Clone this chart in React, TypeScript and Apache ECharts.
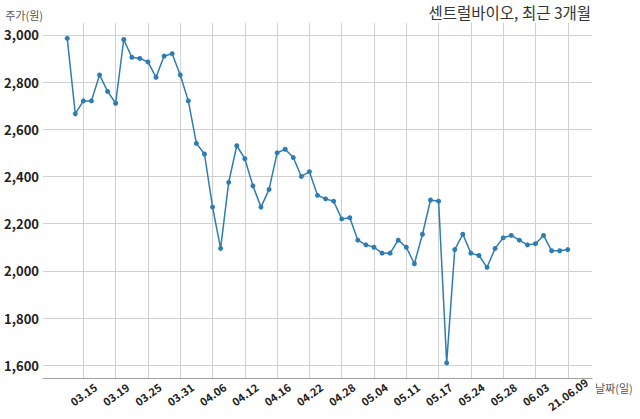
import React, { useRef, useEffect } from 'react';
import * as echarts from 'echarts';

// 거래일 (21.03.11 ~ 21.06.09)
const dates: string[] = [
  '21.03.11', '21.03.12', '21.03.15', '21.03.16', '21.03.17', '21.03.18', '21.03.19',
  '21.03.22', '21.03.23', '21.03.24', '21.03.25', '21.03.26', '21.03.29', '21.03.30',
  '21.03.31', '21.04.01', '21.04.02', '21.04.05', '21.04.06', '21.04.07', '21.04.08',
  '21.04.09', '21.04.12', '21.04.13', '21.04.14', '21.04.15', '21.04.16', '21.04.19',
  '21.04.20', '21.04.21', '21.04.22', '21.04.23', '21.04.26', '21.04.27', '21.04.28',
  '21.04.29', '21.04.30', '21.05.03', '21.05.04', '21.05.06', '21.05.07', '21.05.10',
  '21.05.11', '21.05.12', '21.05.13', '21.05.14', '21.05.17', '21.05.18', '21.05.20',
  '21.05.21', '21.05.24', '21.05.25', '21.05.26', '21.05.27', '21.05.28', '21.05.31',
  '21.06.01', '21.06.02', '21.06.03', '21.06.04', '21.06.07', '21.06.08', '21.06.09',
];

// 종가 (원)
const prices: number[] = [
  2985, 2665, 2720, 2720, 2830, 2760, 2710,
  2980, 2905, 2900, 2885, 2820, 2910, 2920,
  2830, 2720, 2540, 2495, 2270, 2095, 2375,
  2530, 2475, 2360, 2270, 2345, 2500, 2515,
  2480, 2400, 2420, 2320, 2305, 2295, 2220,
  2225, 2130, 2110, 2100, 2075, 2075, 2130,
  2100, 2030, 2155, 2300, 2295, 1610, 2090,
  2155, 2075, 2065, 2015, 2095, 2140, 2150,
  2130, 2110, 2115, 2150, 2085, 2085, 2090,
];

const title = '센트럴바이오, 최근 3개월';
const yName = '주가(원)';
const xName = '날짜(일)';

const PAD = 3; // x축 여백 (빈 카테고리 수)
const TICK_START = 2;
const TICK_STEP = 4;

const FONT = '"Noto Sans CJK KR", "Noto Sans", sans-serif';
const LINE_COLOR = '#2d7cb3';

export default function App() {
  const chartRef = useRef<HTMLDivElement>(null);

  useEffect(() => {
    if (!chartRef.current) return;
    const chart = echarts.init(chartRef.current, undefined, { renderer: 'svg' });

    const pad = Array.from({ length: PAD }, (_, i) => ' '.repeat(i + 1));
    const padEnd = Array.from({ length: PAD }, (_, i) => '_'.repeat(i + 1));
    const axisData = [...pad, ...dates, ...padEnd];
    const last = dates[dates.length - 1];

    const showTick = (index: number) => {
      const k = index - PAD;
      return k >= 0 && k < dates.length && (k - TICK_START) % TICK_STEP === 0;
    };

    const option: echarts.EChartsOption = {
      animation: false,
      textStyle: { fontFamily: FONT },
      title: {
        text: title,
        right: 44,
        top: -1,
        textStyle: { fontSize: 15.5, fontWeight: 'normal', color: '#333', fontFamily: FONT },
      },
      grid: { left: 43, right: 48, top: 23, bottom: 41, containLabel: false },
      xAxis: {
        type: 'category',
        data: axisData,
        boundaryGap: false,
        name: xName,
        nameLocation: 'end',
        nameGap: 3,
        nameTextStyle: {
          fontSize: 11,
          color: '#555',
          align: 'left',
          verticalAlign: 'top',
          padding: [5, 0, 0, 0],
        },
        axisLine: { lineStyle: { color: '#a0a0a0', width: 1 } },
        axisTick: { show: false },
        axisLabel: {
          interval: (index: number) => showTick(index),
          rotate: 36,
          align: 'center',
          verticalAlign: 'middle',
          margin: 16,
          fontSize: 11,
          fontWeight: 600,
          color: '#222',
          formatter: (value: string) => (value === last ? value : value.slice(3)),
        },
        splitLine: {
          show: true,
          interval: (index: number) => showTick(index),
          lineStyle: { color: '#d0d0d0', width: 1 },
        },
      },
      yAxis: {
        type: 'value',
        min: 1546,
        max: 3050,
        minInterval: 200,
        maxInterval: 200,
        name: yName,
        nameLocation: 'end',
        nameGap: 8,
        nameTextStyle: {
          fontSize: 11,
          color: '#555',
          align: 'right',
          verticalAlign: 'middle',
        },
        axisLine: { show: false },
        axisTick: { show: false },
        axisLabel: {
          showMinLabel: false,
          showMaxLabel: false,
          margin: 4,
          fontSize: 13,
          fontWeight: 'bold',
          color: '#222',
          formatter: (v: number) => v.toLocaleString('en-US'),
        },
        splitLine: {
          show: true,
          showMinLine: false,
          showMaxLine: false,
          lineStyle: { color: '#d0d0d0', width: 1 },
        },
      },
      series: [
        {
          type: 'line',
          data: prices.map((p, i) => [i + PAD, p]),
          symbol: 'circle',
          symbolSize: 5,
          showAllSymbol: true,
          lineStyle: { color: LINE_COLOR, width: 1.5 },
          itemStyle: { color: LINE_COLOR },
        },
      ],
    };

    chart.setOption(option);

    return () => {
      chart.dispose();
    };
  }, []);

  return (
    <div
      ref={chartRef}
      style={{ position: 'fixed', left: 0, top: 0, width: 640, height: 419, background: '#fff' }}
    />
  );
}
